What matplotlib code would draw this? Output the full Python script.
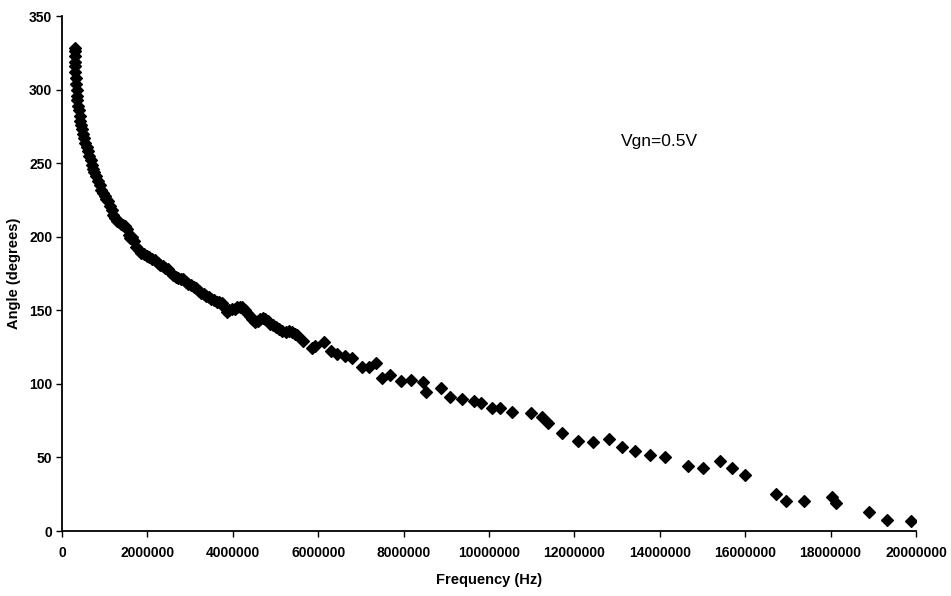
import matplotlib
matplotlib.use("Agg")
import matplotlib.pyplot as plt

plt.rcParams['font.family'] = ['Liberation Sans', 'DejaVu Sans']

# Frequency in MHz and measured phase angle in degrees
freq_mhz = [
    0.30, 0.30, 0.30, 0.30, 0.30, 0.31, 0.32, 0.33, 0.34, 0.35,
    0.36, 0.38, 0.39, 0.41, 0.43, 0.45, 0.47, 0.49, 0.52, 0.55,
    0.58, 0.61, 0.64, 0.67, 0.70, 0.73, 0.76, 0.80, 0.84, 0.88,
    0.92, 0.96, 1.00, 1.04, 1.08, 1.12, 1.16, 1.20, 1.24, 1.28,
    1.33, 1.38, 1.43, 1.48, 1.52, 1.56, 1.60, 1.64, 1.68, 1.74,
    1.80, 1.86, 1.92, 1.98, 2.04, 2.10, 2.18, 2.24, 2.30, 2.36,
    2.42, 2.48, 2.54, 2.60, 2.66, 2.72, 2.78, 2.84, 2.90, 2.96,
    3.02, 3.08, 3.14, 3.20, 3.26, 3.32, 3.38, 3.44, 3.50, 3.56,
    3.62, 3.68, 3.74, 3.80, 3.86, 3.92, 3.98, 4.04, 4.10, 4.16,
    4.22, 4.28, 4.34, 4.40, 4.46, 4.52, 4.58, 4.64, 4.70, 4.76,
    4.82, 4.88, 4.94, 5.00, 5.08, 5.15, 5.25, 5.32, 5.38, 5.45,
    5.50, 5.65, 5.85, 5.93, 6.14, 6.29, 6.43, 6.63, 6.78, 7.02,
    7.19, 7.35, 7.49, 7.67, 7.93, 8.17, 8.46, 8.52, 8.87, 9.09,
    9.37, 9.65, 9.81, 10.06, 10.26, 10.55, 10.98, 11.25, 11.39, 11.72,
    12.09, 12.44, 12.82, 13.12, 13.42, 13.77, 14.13, 14.67, 15.00, 15.41,
    15.68, 16.00, 16.71, 16.95, 17.38, 18.04, 18.12, 18.89, 19.31, 19.88,
]
angle_deg = [
    328, 326, 323, 319, 316, 312, 308, 304, 300, 296,
    293, 289, 286, 282, 279, 276, 273, 270, 267, 264,
    261, 258, 255, 252, 249, 246, 244, 241, 238, 235,
    232, 230, 228, 226, 224, 221, 218, 215, 213, 211,
    210, 209, 208, 207, 205, 201, 199, 200, 197, 193,
    191, 189, 188, 187, 186, 185, 184, 182, 181, 180,
    179, 178, 176, 174, 173, 172, 171, 171, 169, 168,
    167, 166, 165, 163, 162, 161, 160, 159, 158, 157,
    156, 156, 155, 152, 149, 150, 151, 151, 152, 152,
    152, 150, 148, 146, 144, 142, 143, 144, 145, 144,
    143, 141, 140, 139, 137, 136, 135, 136, 135, 134,
    133, 128.9, 124.4, 125.9, 128.2, 122.5, 120.3, 118.7, 117.6, 111.8,
    111.4, 114.2, 103.9, 106.2, 102.1, 102.8, 101.2, 94.4, 97.1, 91.4,
    89.9, 88.7, 87.3, 83.5, 83.5, 81.2, 80.1, 77.4, 73.7, 66.9,
    61.5, 60.8, 62.4, 56.8, 54.7, 51.4, 50.0, 44.2, 43.1, 47.7,
    42.7, 38.1, 25.0, 20.4, 20.4, 23.3, 18.9, 13.1, 7.5, 7.0,
]

x_ticks = [0, 2000000, 4000000, 6000000, 8000000, 10000000,
           12000000, 14000000, 16000000, 18000000, 20000000]
y_ticks = [0, 50, 100, 150, 200, 250, 300, 350]

freq_hz = [f * 1e6 for f in freq_mhz]

fig = plt.figure(figsize=(9.51, 5.96), dpi=100)
ax = fig.add_axes([0.0652, 0.109, 0.898, 0.864])

ax.plot(freq_hz, angle_deg, linestyle='none', marker='D', markersize=6.3,
        color='black', markeredgewidth=0.9)

ax.set_xlim(0, 20000000)
ax.set_ylim(0, 350)
ax.set_xticks(x_ticks)
ax.set_xticklabels([str(t) for t in x_ticks])
ax.set_yticks(y_ticks)
ax.set_yticklabels([str(t) for t in y_ticks])

for side in ('top', 'right'):
    ax.spines[side].set_visible(False)
for side in ('left', 'bottom'):
    ax.spines[side].set_linewidth(1.3)
    ax.spines[side].set_color('black')

ax.tick_params(axis='both', direction='out', length=4, width=1.0,
               labelsize=10, colors='black')
ax.tick_params(axis='y', pad=3)
ax.tick_params(axis='x', pad=7)
for lbl in ax.get_xticklabels() + ax.get_yticklabels():
    lbl.set_fontweight('bold')

ax.set_xlabel('Frequency (Hz)', fontsize=10.5, fontweight='bold', labelpad=9)
ax.set_ylabel('Angle (degrees)', fontsize=10.5, fontweight='bold', labelpad=6)

ax.text(14000000, 265, 'Vgn=0.5V', fontsize=12.5, ha='center', va='center')

fig.savefig('out.png', dpi=100)
